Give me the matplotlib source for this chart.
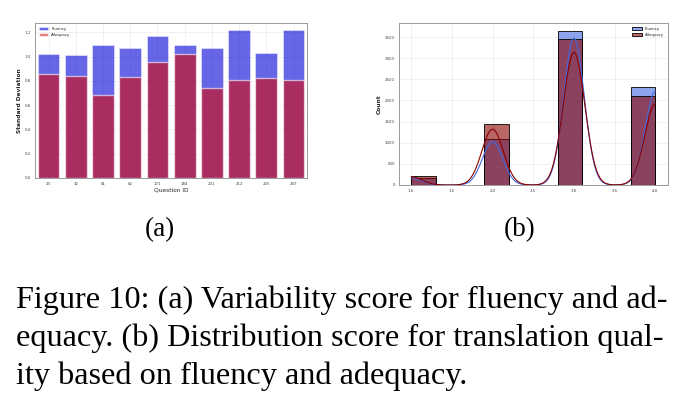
import numpy as np
import matplotlib.pyplot as plt
import seaborn as sns

# (a) standard deviation per question
question_ids = ['23', '42', '61', '62', '171', '184', '201', '212', '225', '247']
fluency_sd = [1.02, 1.014, 1.099, 1.074, 1.17, 1.10, 1.074, 1.216, 1.033, 1.216]
adequacy_sd = [0.858, 0.841, 0.688, 0.833, 0.959, 1.019, 0.745, 0.808, 0.822, 0.808]

# (b) score counts
scores = [1, 2, 3, 4]
fluency_counts = [175, 1077, 3648, 2327]
adequacy_counts = [212, 1454, 3459, 2115]

sns.set_style('whitegrid')
plt.rcParams['axes.edgecolor'] = '#9a9a9a'
plt.rcParams['grid.color'] = '#e6e6e6'

fig = plt.figure(figsize=(6.89, 4.12), dpi=100)
ax1 = fig.add_axes([0.0508, 0.568, 0.395, 0.376])
ax2 = fig.add_axes([0.579, 0.551, 0.390, 0.393])

x = np.arange(len(question_ids))
ax1.bar(x, fluency_sd, width=0.8, color='#0000d8', alpha=0.6, label='Fluency',
        edgecolor='white', linewidth=0.5)
ax1.bar(x, adequacy_sd, width=0.8, color='#d80808', alpha=0.6, label='Adequacy')
ax1.set_xticks(x)
ax1.set_xticklabels(question_ids)
ax1.set_xlim(-0.5, 9.5)
ax1.set_ylabel('Standard Deviation', fontsize=4.2, fontweight='bold', labelpad=2)
ax1.set_xlabel('Question ID', fontsize=4.2, labelpad=1)
ax1.tick_params(labelsize=2.9, length=1.5, width=0.4, pad=1.5, colors='#444444')
ax1.legend(loc='upper left', fontsize=2.8, frameon=False, handlelength=2.5)

flu = np.repeat(scores, fluency_counts)
ade = np.repeat(scores, adequacy_counts)
sns.histplot(flu, bins=10, kde=True, color='royalblue', alpha=0.6, edgecolor='black',
             linewidth=0.6, label='Fluency', ax=ax2)
sns.histplot(ade, bins=10, kde=True, color='darkred', alpha=0.6, edgecolor='black',
             linewidth=0.6, label='Adequacy', ax=ax2)
for line in ax2.lines:
    line.set_linewidth(0.8)
ax2.set_xlim(0.85, 4.15)
ax2.set_ylabel('Count', fontsize=4.2, fontweight='bold', labelpad=2)
ax2.set_xlabel('')
ax2.tick_params(labelsize=2.9, length=1.5, width=0.4, pad=1.5, colors='#444444')
ax2.legend(loc='upper right', fontsize=2.8, frameon=False, handlelength=2.5)

for ax in (ax1, ax2):
    for s in ax.spines.values():
        s.set_linewidth(0.7)
    ax.grid(linewidth=0.4)

serif = ['Liberation Serif', 'DejaVu Serif']
fig.text(160 / 689, 1 - 230 / 412, '(a)', ha='center', va='center', fontsize=19.5,
         family=serif, color='black')
fig.text(520 / 689, 1 - 230 / 412, '(b)', ha='center', va='center', fontsize=19.5,
         family=serif, color='black')

caption = ['Figure 10: (a) Variability score for fluency and ad-',
           'equacy. (b) Distribution score for translation qual-',
           'ity based on fluency and adequacy.']
for i, line in enumerate(caption):
    fig.text(16 / 689, 1 - (308 + 38 * i) / 412, line, ha='left', va='baseline',
             fontsize=23.2, family=serif, color='black')

fig.savefig('out.png', dpi=100)
